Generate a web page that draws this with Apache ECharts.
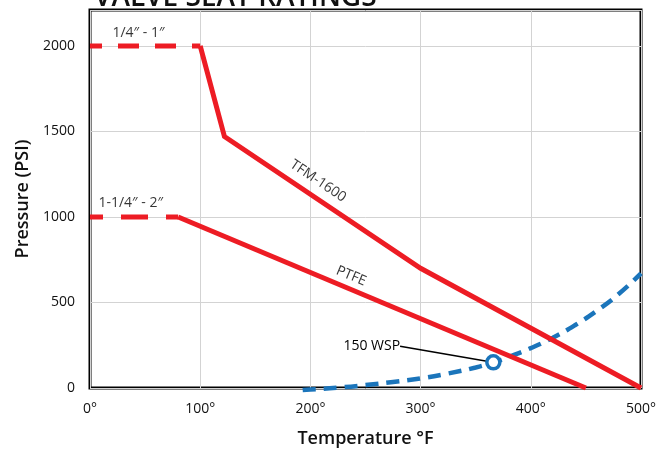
<!DOCTYPE html>
<html><head><meta charset="utf-8">
<script src="https://cdn.jsdelivr.net/npm/echarts@6/dist/echarts.min.js"></script>
<style>html,body{margin:0;padding:0;background:#fff}#c{width:668px;height:453px}</style>
</head><body><div id="c"></div>
<script>
// ---- data ----
const titleText = 'VALVE SEAT RATINGS';
const xTickValues = [0, 100, 200, 300, 400, 500];
const yTickValues = [0, 500, 1000, 1500, 2000];
const tfmDashed = [[0, 2000], [100, 2000]];
const tfmSolid = [[100, 2000], [122, 1470], [300, 700], [500, 0]];
const ptfeDashed = [[0, 1000], [80, 1000]];
const ptfeSolid = [[80, 1000], [450, 0]];
const wspCurve = [[193, -12], [200, -9], [225, 2], [250, 17], [275, 35], [300, 56], [325, 85], [350, 120], [366, 150], [380, 182], [400, 233], [420, 294], [440, 367], [460, 452], [480, 551], [500, 670]];
const wspPoint = [[366, 150]];
const sizeLabels = ['1/4″ - 1″', '1-1/4″ - 2″'];
const seriesLabels = ['TFM-1600', 'PTFE'];
const wspLabel = '150 WSP';

// ---- styles ----
const RED = '#ed1c24', BLUE = '#1b75bb', INK = '#111';
const FONT = '"Open Sans", "DejaVu Sans", sans-serif';

const chart = echarts.init(document.getElementById('c'), null, {renderer: 'canvas'});
chart.setOption({
  animation: false,
  backgroundColor: '#fff',
  textStyle: {fontFamily: FONT, color: INK},
  title: {
    text: titleText, left: 89, top: -21,
    textStyle: {fontFamily: FONT, fontSize: 28, fontWeight: 600, color: INK}
  },
  grid: {left: 90, right: 27, top: 10, bottom: 65, show: true, borderColor: '#000', borderWidth: 3, containLabel: false},
  xAxis: {
    type: 'value', min: 0, max: 500, interval: 100,
    name: 'Temperature °F', nameLocation: 'middle', nameGap: 42,
    nameTextStyle: {fontFamily: FONT, fontSize: 18, fontWeight: 600, color: INK},
    axisLine: {show: false}, axisTick: {show: false},
    axisLabel: {margin: 14, fontSize: 14, color: INK, fontFamily: FONT,
      formatter: v => xTickValues.includes(v) ? v + '°' : ''},
    splitLine: {show: true, lineStyle: {color: '#d3d3d3', width: 1}}
  },
  yAxis: {
    type: 'value', min: 0, max: 2210, interval: 500,
    name: 'Pressure (PSI)', nameLocation: 'middle', nameGap: 58,
    nameTextStyle: {fontFamily: FONT, fontSize: 18, fontWeight: 600, color: INK},
    axisLine: {show: false}, axisTick: {show: false},
    axisLabel: {margin: 15, fontSize: 14, color: INK, fontFamily: FONT, showMaxLabel: false,
      formatter: v => yTickValues.includes(v) ? String(v) : ''},
    splitLine: {show: true, lineStyle: {color: '#d3d3d3', width: 1}}
  },
  series: [
    {type: 'line', name: '150 WSP curve', data: wspCurve, smooth: true, symbol: 'none', clip: false, z: 2,
      lineStyle: {color: BLUE, width: 4.5, type: [13, 8], dashOffset: 0}},
    {type: 'line', name: 'TFM dashed', data: tfmDashed, symbol: 'none', clip: false, z: 3,
      lineStyle: {color: RED, width: 5, type: [21, 16], dashOffset: 9, cap: 'butt'}},
    {type: 'line', name: 'TFM-1600', data: tfmSolid, symbol: 'none', clip: false, z: 3,
      lineStyle: {color: RED, width: 5, join: 'miter'}},
    {type: 'line', name: 'PTFE dashed', data: ptfeDashed, symbol: 'none', clip: false, z: 3,
      lineStyle: {color: RED, width: 5, type: [27, 18], dashOffset: 14, cap: 'butt'}},
    {type: 'line', name: 'PTFE', data: ptfeSolid, symbol: 'none', clip: false, z: 3,
      lineStyle: {color: RED, width: 5}},
    {type: 'scatter', name: 'labels', z: 5, symbolSize: 0, silent: true,
      data: [
        {value: [44, 2076], label: {formatter: sizeLabels[0]}},
        {value: [37, 1082], label: {formatter: sizeLabels[1]}},
        {value: [207, 1210], label: {formatter: seriesLabels[0], rotate: -34}},
        {value: [237, 655], label: {formatter: seriesLabels[1], rotate: -22.6}}
      ],
      label: {show: true, position: 'inside', fontSize: 14, fontWeight: 500, color: '#000', fontFamily: FONT}
    },
    {type: 'scatter', name: wspLabel, data: wspPoint, z: 6, symbol: 'circle', symbolSize: 13,
      itemStyle: {color: '#fff', borderColor: BLUE, borderWidth: 3.5, opacity: 1},
      label: {show: true, position: 'left', formatter: wspLabel, fontSize: 14, fontWeight: 500, color: '#000', fontFamily: FONT, distance: 5},
      labelLayout: {dx: -80, dy: -16},
      labelLine: {show: true, lineStyle: {color: '#000', width: 1.5}}
    }
  ]
});
</script></body></html>
